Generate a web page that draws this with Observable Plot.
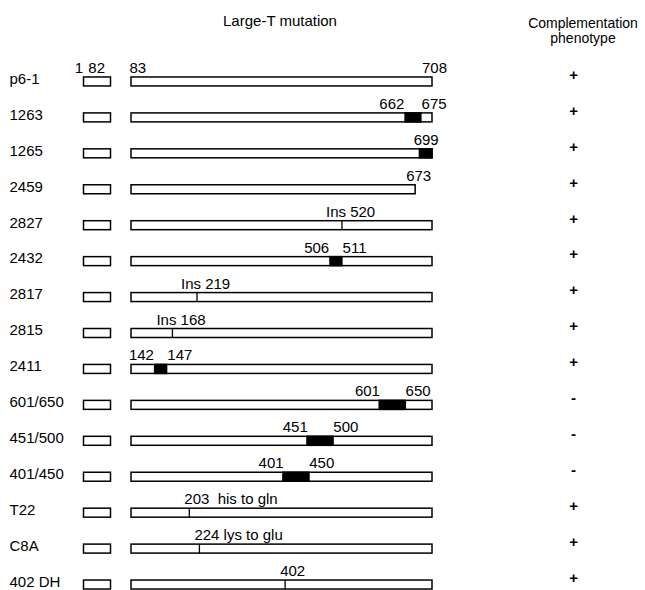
<!DOCTYPE html>
<html><head><meta charset="utf-8">
<script src="https://cdn.jsdelivr.net/npm/d3@7"></script>
<script src="https://cdn.jsdelivr.net/npm/@observablehq/plot@0.6"></script>
<style>
body{margin:0;background:#fff;font-family:"Liberation Sans",Arial,Helvetica,sans-serif;color:#000}
#wrap{position:relative;width:645px;height:590px;overflow:hidden;background:#fff}
#head{position:relative;height:50px}
.h{position:absolute;line-height:15px;white-space:nowrap;text-align:center}
#chart svg{display:block}
</style></head><body>
<div id="wrap">
<div id="head">
<div class="h" style="left:180px;width:200px;top:13px;font-size:15px">Large-T mutation</div>
<div class="h" style="left:523px;width:120px;top:16px;font-size:14px">Complementation<br>phenotype</div>
</div>
<div id="chart"></div>
</div>
<script>
// Large-T antigen mutants (rows, top to bottom)
const mutants = ["p6-1","1263","1265","2459","2827","2432","2817","2815","2411","601/650","451/500","401/450","T22","C8A","402 DH"];
const phenotype = ["+","+","+","+","+","+","+","+","+","-","-","-","+","+","+"];
// exon structure (residues)
const exon1 = [1, 82];
const exon2Start = 83;
const fullLength = 708;
// last residue of each protein
const proteinEnd = [708,708,708,673,708,708,708,708,708,708,708,708,708,708,708];
// deleted residue ranges
const delFrom = [null,662,699,null,null,506,null,null,142,601,451,401,null,null,null];
const delTo   = [null,675,708,null,null,511,null,null,147,650,500,450,null,null,null];
// insertion / point mutation sites
const siteAt    = [null,null,null,null,520,null,219,168,null,null,null,null,203,224,402];
const siteLabel = [null,null,null,null,"Ins 520",null,"Ins 219","Ins 168",null,null,null,null,"203\u00a0\u00a0his to gln","224 lys to glu","402"];

const rows = mutants.map((m,i)=>({mutant:m, pheno:phenotype[i], end:proteinEnd[i], from:delFrom[i], to:delTo[i], site:siteAt[i], siteText:siteLabel[i]}));
const dels = rows.filter(d=>d.from!=null);
const terminal = dels.filter(d=>d.to===fullLength);
const small = dels.filter(d=>d.to-d.from<20 && d.to<fullLength);
const large = dels.filter(d=>d.to-d.from>=20);
const sites = rows.filter(d=>d.site!=null);
const insSites = sites.filter(d=>d.siteText.startsWith("Ins"));
const ptSites = sites.filter(d=>!d.siteText.startsWith("Ins"));
const wt = rows.filter(d=>d.from==null && d.site==null && d.end===fullLength);
const trunc = rows.filter(d=>d.end<fullLength);

const lab = {lineAnchor:"bottom", dy:-9};
const plot = Plot.plot({
  width:645, height:540, margin:0,
  x:{type:"linear", domain:[exon1[0],exon1[1],exon2Start,fullLength], range:[83.5,110.5,131,432], axis:null},
  y:{type:"band", domain:mutants, range:[13.5,552.5], paddingInner:0.75, paddingOuter:0.375, round:false, axis:null},
  style:{fontFamily:'"Liberation Sans",Arial,Helvetica,sans-serif', fontSize:"15px", background:"white", color:"black"},
  marks:[
    Plot.barX(rows, {x1:()=>exon1[0], x2:()=>exon1[1], y:"mutant", fill:"white", stroke:"black", strokeWidth:1.5}),
    Plot.barX(rows, {x1:()=>exon2Start, x2:"end", y:"mutant", fill:"white", stroke:"black", strokeWidth:1.5}),
    Plot.barX(small, {x1:"from", x2:"to", y:"mutant", fill:"black", insetLeft:-5.5, insetRight:-5.5, insetTop:-0.75, insetBottom:-0.75}),
    Plot.barX(large, {x1:"from", x2:"to", y:"mutant", fill:"black", insetLeft:-2, insetRight:-2, insetTop:-0.75, insetBottom:-0.75}),
    Plot.barX(terminal, {x1:"from", x2:"to", y:"mutant", fill:"black", insetLeft:-9, insetRight:-0.75, insetTop:-0.75, insetBottom:-0.75}),
    Plot.tickX(sites, {x:"site", y:"mutant", stroke:"black", strokeWidth:1.3}),
    // row names
    Plot.text(rows, {y:"mutant", text:"mutant", frameAnchor:"left", dx:9, dy:-3, textAnchor:"start"}),
    // phenotype column
    Plot.text(rows, {y:"mutant", text:"pheno", frameAnchor:"left", dx:573, textAnchor:"middle", dy:-7, fontWeight:"bold"}),
    // wild-type boundary labels
    Plot.text(wt, {x:()=>exon1[0], y:"mutant", text:()=>String(exon1[0]), textAnchor:"middle", dx:-5, ...lab}),
    Plot.text(wt, {x:()=>exon1[1], y:"mutant", text:()=>String(exon1[1]), textAnchor:"end", dx:-6, ...lab}),
    Plot.text(wt, {x:()=>exon2Start, y:"mutant", text:()=>String(exon2Start), textAnchor:"start", dx:-2, ...lab}),
    Plot.text(wt, {x:()=>fullLength, y:"mutant", text:()=>String(fullLength), textAnchor:"middle", dx:2, ...lab}),
    // truncation
    Plot.text(trunc, {x:"end", y:"mutant", text:d=>String(d.end), textAnchor:"middle", dx:3, ...lab}),
    // deletions
    Plot.text(small, {x:"from", y:"mutant", text:d=>String(d.from), textAnchor:"end", dx:-6, ...lab}),
    Plot.text(small, {x:"to", y:"mutant", text:d=>String(d.to), textAnchor:"start", dx:5, ...lab}),
    Plot.text(large, {x:"from", y:"mutant", text:d=>String(d.from), textAnchor:"end", dx:-1, ...lab}),
    Plot.text(large, {x:"to", y:"mutant", text:d=>String(d.to), textAnchor:"start", dx:1, ...lab}),
    Plot.text(terminal, {x:"from", y:"mutant", text:d=>String(d.from), textAnchor:"middle", dx:-2, ...lab}),
    // insertions / point mutations
    Plot.text(insSites, {x:"site", y:"mutant", text:"siteText", textAnchor:"start", dx:-16, ...lab}),
    Plot.text(ptSites, {x:"site", y:"mutant", text:"siteText", textAnchor:"start", dx:-5, ...lab})
  ]
});
document.getElementById("chart").appendChild(plot);
</script>
</body></html>
